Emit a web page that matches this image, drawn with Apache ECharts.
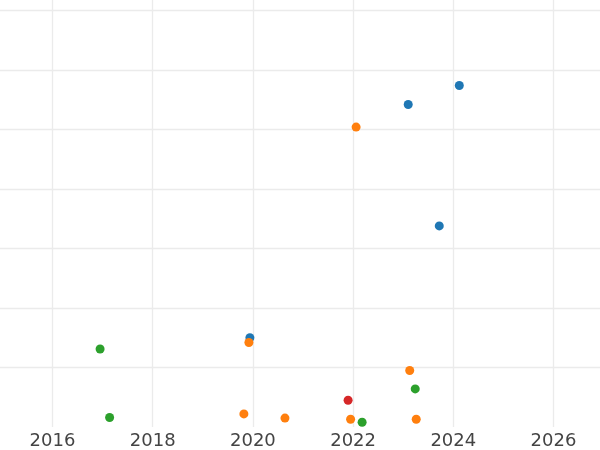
<!DOCTYPE html>
<html>
<head>
<meta charset="utf-8">
<script src="https://cdn.jsdelivr.net/npm/echarts@6/dist/echarts.min.js"></script>
<style>html,body{margin:0;padding:0;background:#fff}#c{width:600px;height:450px}</style>
</head>
<body>
<div id="c"></div>
<script>
var seriesNames = ['A', 'B', 'C', 'D'];
var seriesColors = ['#1f77b4', '#ff7f0e', '#2ca02c', '#d62728'];
var blueX = [2019.94, 2023.10, 2024.12, 2023.72];
var blueY = [1.50, 5.42, 5.74, 3.38];
var orangeX = [2019.92, 2019.82, 2020.64, 2021.95, 2023.26, 2022.06, 2023.13];
var orangeY = [1.42, 0.22, 0.15, 0.13, 0.13, 5.04, 0.95];
var greenX = [2016.95, 2017.14, 2022.18, 2023.24];
var greenY = [1.31, 0.16, 0.08, 0.64];
var redX = [2021.90];
var redY = [0.45];
var xTicks = [2014, 2016, 2018, 2020, 2022, 2024, 2026, 2028];

function pairs(xs, ys) { return xs.map(function (x, i) { return [x, ys[i]]; }); }
var allX = [blueX, orangeX, greenX, redX];
var allY = [blueY, orangeY, greenY, redY];

var chart = echarts.init(document.getElementById('c'), null, {renderer: 'canvas'});
chart.setOption({
  animation: false,
  backgroundColor: '#ffffff',
  grid: {left: -47.7, right: -53.7, top: -49, bottom: 23, containLabel: false, outerBoundsMode: 'none'},
  xAxis: {
    type: 'value',
    min: xTicks[0], max: xTicks[xTicks.length - 1], interval: 2,
    axisLine: {show: false}, axisTick: {show: false},
    axisLabel: {color: '#444444', fontSize: 18, fontFamily: 'DejaVu Sans', margin: 5,
      formatter: function (v) { return String(v); }},
    splitLine: {show: true, lineStyle: {color: '#ebebeb', width: 1.3}}
  },
  yAxis: {
    type: 'value', min: 0, max: 8, interval: 1,
    axisLine: {show: false}, axisTick: {show: false}, axisLabel: {show: false},
    splitLine: {show: true, showMinLine: false, lineStyle: {color: '#ebebeb', width: 1.3}}
  },
  series: seriesNames.map(function (n, i) {
    return {
      name: n, type: 'scatter', symbol: 'circle', symbolSize: 9,
      itemStyle: {color: seriesColors[i], opacity: 1},
      data: pairs(allX[i], allY[i])
    };
  })
});
</script>
</body>
</html>
